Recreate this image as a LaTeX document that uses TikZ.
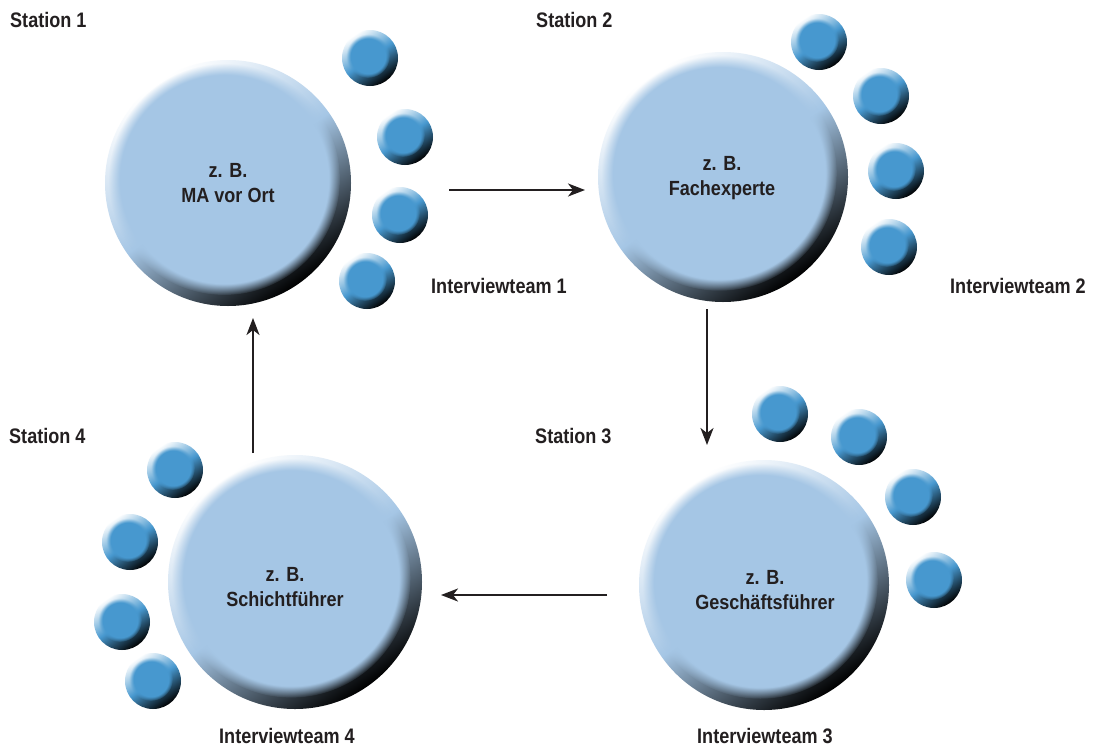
\documentclass[tikz,border=0pt]{standalone}
\usepackage{fontspec}
\setmainfont{Liberation Sans}
\newfontfamily\labfont{Liberation Sans}[FakeStretch=0.86]
\newfontfamily\innfont{Liberation Sans}[FakeStretch=0.88]
\usetikzlibrary{arrows.meta,fadings}
\definecolor{bigblue}{HTML}{A5C6E5}
\definecolor{smallblue}{HTML}{4798CF}
\definecolor{ink}{HTML}{231F20}
% name, x, y, r, colour, fading, inner radius factor, shift factor
\newcommand\orb[8]{%
  \shade[top color=white, bottom color=black, middle color=#5, shading angle=35] (#2,#3) circle (#4);
  \fill[#5, path fading=#6] ({#2-#8*#4},{#3-#8*#4}) circle ({#7*#4});
  \node[circle, inner sep=0pt, minimum size=2*#4] (#1) at (#2,#3) {};
}
\newcommand\bigorb[4]{\orb{#1}{#2}{#3}{#4}{bigblue}{circle with fuzzy edge 10 percent}{0.94}{0.03}}
\newcommand\smallorb[3]{\orb{#1}{#2}{#3}{28}{smallblue}{circle with fuzzy edge 20 percent}{0.78}{0.07}}
\tikzset{
  lab/.style={font=\labfont\bfseries\fontsize{21}{25}\selectfont, text=ink, inner sep=0pt, anchor=base west},
  intext/.style={font=\innfont\bfseries\fontsize{20.5}{25}\selectfont, text=ink, inner sep=0pt, align=center},
  flow/.style={draw=ink, line width=2.2pt, -{Stealth[length=17pt, width=13pt, inset=5pt]}}
}
\begin{document}
\begin{tikzpicture}[x=1pt, y=-1pt]
\useasboundingbox (0,0) rectangle (1095,747);
\fill[white] (0,0) rectangle (1095,747);
% Station 1
\bigorb{c1}{228}{183}{123}
\smallorb{b11}{370}{58}
\smallorb{b12}{405}{137}
\smallorb{b13}{400}{215}
\smallorb{b14}{367}{281}
% Station 2
\bigorb{c2}{723}{177}{125}
\smallorb{b21}{819}{42}
\smallorb{b22}{881}{96}
\smallorb{b23}{896}{171}
\smallorb{b24}{889}{247}
% Station 3
\bigorb{c3}{764}{585}{125}
\smallorb{b31}{780}{414}
\smallorb{b32}{859}{437}
\smallorb{b33}{913}{497}
\smallorb{b34}{934}{580}
% Station 4
\bigorb{c4}{295}{582}{127}
\smallorb{b41}{175}{470}
\smallorb{b42}{130}{542}
\smallorb{b43}{122}{622}
\smallorb{b44}{153}{681}
% texts in circles
\node[intext] (t1) at (228,183) {z. B.\\MA vor Ort};
\node[intext] (t2) at (722,178) {z. B.\\Fachexperte};
\node[intext] (t3) at (765,590) {z. B.\\Geschäftsführer};
\node[intext] (t4) at (285,587) {z. B.\\Schichtführer};
% labels
\node[lab] (s1) at (10,27) {Station 1};
\node[lab] (s2) at (536,27) {Station 2};
\node[lab] (s3) at (535,443) {Station 3};
\node[lab] (s4) at (9,443) {Station 4};
\node[lab] (i1) at (431,293) {Interviewteam 1};
\node[lab] (i2) at (950,293) {Interviewteam 2};
\node[lab] (i3) at (697,743) {Interviewteam 3};
\node[lab] (i4) at (219,743) {Interviewteam 4};
% arrows
\coordinate (a1s) at (449,190); \coordinate (a1e) at (585,190);
\coordinate (a2s) at (707,309); \coordinate (a2e) at (707,445);
\coordinate (a3s) at (607,595); \coordinate (a3e) at (441,595);
\coordinate (a4s) at (253,453); \coordinate (a4e) at (253,318);
\draw[flow] (a1s) -- (a1e);
\draw[flow] (a2s) -- (a2e);
\draw[flow] (a3s) -- (a3e);
\draw[flow] (a4s) -- (a4e);
\end{tikzpicture}
\end{document}
